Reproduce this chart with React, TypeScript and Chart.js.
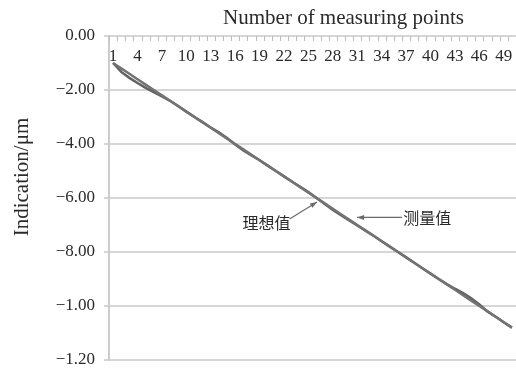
import React, { useEffect, useRef } from "react";
import { Chart, registerables } from "chart.js";

Chart.register(...registerables);

// Measuring point numbers 1..50
const categories = [
  1, 2, 3, 4, 5, 6, 7, 8, 9, 10, 11, 12, 13, 14, 15, 16, 17, 18, 19, 20, 21, 22, 23, 24, 25,
  26, 27, 28, 29, 30, 31, 32, 33, 34, 35, 36, 37, 38, 39, 40, 41, 42, 43, 44, 45, 46, 47, 48, 49, 50,
];

// Ideal indication values
const idealValues = [
  -0.1, -0.12, -0.14, -0.16, -0.18, -0.2, -0.22, -0.24, -0.26, -0.28, -0.3, -0.32, -0.34, -0.36,
  -0.38, -0.4, -0.42, -0.44, -0.46, -0.48, -0.5, -0.52, -0.54, -0.56, -0.58, -0.6, -0.62, -0.64,
  -0.66, -0.68, -0.7, -0.72, -0.74, -0.76, -0.78, -0.8, -0.82, -0.84, -0.86, -0.88, -0.9, -0.92,
  -0.94, -0.96, -0.98, -1.0, -1.02, -1.04, -1.06, -1.08,
];

// Measured indication values
const measuredValues = [
  -0.1, -0.133, -0.155, -0.174, -0.192, -0.208, -0.224, -0.24, -0.259, -0.28, -0.3, -0.319, -0.339,
  -0.357, -0.378, -0.402, -0.424, -0.442, -0.46, -0.48, -0.5, -0.52, -0.54, -0.559, -0.578, -0.6,
  -0.622, -0.644, -0.664, -0.683, -0.702, -0.721, -0.74, -0.76, -0.78, -0.8, -0.82, -0.84, -0.86,
  -0.88, -0.9, -0.919, -0.936, -0.952, -0.971, -0.994, -1.02, -1.04, -1.06, -1.08,
];

// Y axis tick values and their printed labels
const yTickValues = [0, -0.2, -0.4, -0.6, -0.8, -1.0, -1.2];
const yTickLabels = ["0.00", "\u22122.00", "\u22124.00", "\u22126.00", "\u22128.00", "\u22121.00", "\u22121.20"];

const xTitle = "Number of measuring points";
const yTitle = "Indication/\u03bcm";
const idealLabel = "理想值";
const measuredLabel = "测量值";

const SERIF = "'Liberation Serif', 'Times New Roman', serif";
const CJK = "'Noto Sans CJK SC', sans-serif";
const TEXT = "#2a2a2a";

function drawArrow(ctx: CanvasRenderingContext2D, x0: number, y0: number, x1: number, y1: number) {
  ctx.save();
  ctx.strokeStyle = "#6a6a6a";
  ctx.fillStyle = "#6a6a6a";
  ctx.lineWidth = 1.2;
  ctx.beginPath();
  ctx.moveTo(x0, y0);
  ctx.lineTo(x1, y1);
  ctx.stroke();
  const a = Math.atan2(y1 - y0, x1 - x0);
  const len = 7;
  const w = 2.5;
  ctx.beginPath();
  ctx.moveTo(x1, y1);
  ctx.lineTo(x1 - len * Math.cos(a) + w * Math.sin(a), y1 - len * Math.sin(a) - w * Math.cos(a));
  ctx.lineTo(x1 - len * Math.cos(a) - w * Math.sin(a), y1 - len * Math.sin(a) + w * Math.cos(a));
  ctx.closePath();
  ctx.fill();
  ctx.restore();
}

const decorations = {
  id: "decorations",
  afterDraw(chart: any) {
    const { ctx, chartArea, scales } = chart;
    const xs = scales.x;
    const ys = scales.y;
    const half = (xs.getPixelForValue(1) - xs.getPixelForValue(0)) / 2;

    ctx.save();
    // small tick marks hanging under the top axis line
    ctx.strokeStyle = "#bdbdbd";
    ctx.lineWidth = 1;
    for (let i = 0; i <= categories.length; i++) {
      const x = Math.round(xs.getPixelForValue(0) - half + i * half * 2) + 0.5;
      ctx.beginPath();
      ctx.moveTo(x, chartArea.top);
      ctx.lineTo(x, chartArea.top + 5);
      ctx.stroke();
    }

    // category labels, every third point, inside the plot under the top axis
    ctx.fillStyle = TEXT;
    ctx.font = `17px ${SERIF}`;
    ctx.textAlign = "center";
    ctx.textBaseline = "middle";
    categories.forEach((c, i) => {
      if (i % 3 === 0) ctx.fillText(String(c), xs.getPixelForValue(i), chartArea.top + 21);
    });

    // axis titles
    ctx.font = `21px ${SERIF}`;
    ctx.fillText(xTitle, (chartArea.left + chartArea.right) / 2 + 31, chartArea.top - 18);
    ctx.save();
    ctx.translate(chartArea.left - 87, (chartArea.top + chartArea.bottom) / 2 - 21);
    ctx.rotate(-Math.PI / 2);
    ctx.fillText(yTitle, 0, 0);
    ctx.restore();

    // callouts for the two series
    const ix = xs.getPixelForValue(25);
    const iy = ys.getPixelForValue(idealValues[25]);
    drawArrow(ctx, ix - 27, iy + 21, ix + 0.5, iy + 4);
    ctx.fillStyle = TEXT;
    ctx.font = `16px ${CJK}`;
    ctx.textAlign = "right";
    ctx.fillText(idealLabel, ix - 26, iy + 25);

    const mx = xs.getPixelForValue(29);
    const my = ys.getPixelForValue(measuredValues[29]);
    drawArrow(ctx, mx + 53, my - 3, mx + 8, my - 3);
    ctx.textAlign = "left";
    ctx.fillText(measuredLabel, mx + 54, my - 2);
    ctx.restore();
  },
};

export default function App() {
  const ref = useRef<HTMLCanvasElement>(null);

  useEffect(() => {
    if (!ref.current) return;
    const chart = new Chart(ref.current, {
      type: "line",
      data: {
        labels: categories.map(String),
        datasets: [
          {
            label: idealLabel,
            data: idealValues,
            borderColor: "#737373",
            borderWidth: 2.5,
            pointRadius: 0,
            tension: 0,
          },
          {
            label: measuredLabel,
            data: measuredValues,
            borderColor: "#626262",
            borderWidth: 2.5,
            pointRadius: 0,
            tension: 0,
          },
        ],
      },
      options: {
        responsive: false,
        animation: false,
        layout: { padding: { top: 36, right: 0, bottom: 10, left: 0 } },
        plugins: { legend: { display: false }, tooltip: { enabled: false } },
        scales: {
          x: {
            type: "category",
            offset: true,
            display: false,
          },
          y: {
            min: -1.2,
            max: 0,
            afterFit: (s: any) => {
              s.width = 109;
              s.paddingTop = 0;
              s.paddingBottom = 0;
            },
            ticks: {
              stepSize: 0.2,
              padding: 9,
              color: TEXT,
              font: { family: SERIF, size: 17 },
              callback: (v: any) => {
                let best = 0;
                yTickValues.forEach((t, i) => {
                  if (Math.abs(t - v) < Math.abs(yTickValues[best] - v)) best = i;
                });
                return yTickLabels[best];
              },
            },
            grid: { color: "#d6d6d6", lineWidth: 2, tickLength: 5, drawTicks: true },
            border: { color: "#cccccc", width: 2 },
          },
        },
      },
      plugins: [decorations],
    });
    return () => chart.destroy();
  }, []);

  return (
    <div style={{ position: "absolute", left: 0, top: 0, width: 516, height: 370, background: "#fff" }}>
      <canvas ref={ref} width={516} height={370} />
    </div>
  );
}
